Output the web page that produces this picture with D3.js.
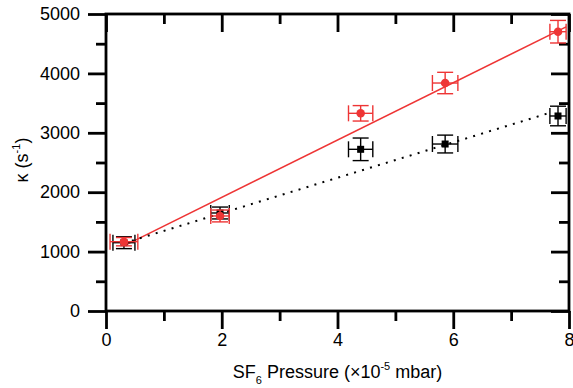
<!DOCTYPE html>
<html>
<head>
<meta charset="utf-8">
<script src="https://cdn.jsdelivr.net/npm/d3@7"></script>
<style>
  body { margin: 0; background: #fff; }
  svg text { font-family: "Liberation Sans", Arial, sans-serif; fill: #000; }
</style>
</head>
<body>
<svg id="chart" width="573" height="388"></svg>
<script>
// values
const redX = [0.31, 1.97, 4.40, 5.86, 7.81];
const redXErr = [0.24, 0.16, 0.21, 0.22, 0.14];
const redK = [1167, 1600, 3328, 3838, 4702];
const redKErr = [70, 100, 130, 180, 190];

const blackX = [0.31, 1.97, 4.40, 5.86, 7.81];
const blackXErr = [0.19, 0.16, 0.21, 0.22, 0.14];
const blackK = [1150, 1650, 2722, 2811, 3283];
const blackKErr = [100, 100, 190, 150, 165];

const redFitX = [0.31, 7.95];
const redFitK = [1097, 4784];
const blackFitX = [0.31, 7.68];
const blackFitK = [1143, 3340];

const xMajor = [0, 2, 4, 6, 8];
const xMinor = [1, 3, 5, 7];
const yMajor = [0, 1000, 2000, 3000, 4000, 5000];
const yMinor = [500, 1500, 2500, 3500, 4500];

const margin = { top: 14, right: 4, bottom: 77, left: 106 };
const width = 573, height = 388;
const innerW = width - margin.left - margin.right;
const innerH = height - margin.top - margin.bottom;

const x = d3.scaleLinear().domain([0, 8]).range([0, innerW]);
const y = d3.scaleLinear().domain([0, 5000]).range([innerH, 0]);

const red = '#ee3535';
const svg = d3.select('#chart');
const g = svg.append('g').attr('transform', `translate(${margin.left},${margin.top})`);

function styleAxis(sel) {
  sel.select('.domain').remove();
  sel.selectAll('line').attr('stroke', '#000').attr('stroke-width', 2.8);
  sel.selectAll('text').attr('font-size', 18);
}

// bottom
g.append('g').attr('transform', `translate(0,${innerH})`)
  .call(d3.axisBottom(x).tickValues(xMajor).tickSize(18).tickPadding(4).tickFormat(d3.format('d')))
  .call(styleAxis);
g.append('g').attr('transform', `translate(0,${innerH})`)
  .call(d3.axisBottom(x).tickValues(xMinor).tickSize(10).tickFormat(''))
  .call(styleAxis);
// top (inward)
g.append('g')
  .call(d3.axisTop(x).tickValues(xMajor).tickSize(-18).tickFormat(''))
  .call(styleAxis);
g.append('g')
  .call(d3.axisTop(x).tickValues(xMinor).tickSize(-10).tickFormat(''))
  .call(styleAxis);
// left
g.append('g')
  .call(d3.axisLeft(y).tickValues(yMajor).tickSize(18).tickPadding(8).tickFormat(d3.format('d')))
  .call(styleAxis);
g.append('g')
  .call(d3.axisLeft(y).tickValues(yMinor).tickSize(10).tickFormat(''))
  .call(styleAxis);
// right (inward)
g.append('g').attr('transform', `translate(${innerW},0)`)
  .call(d3.axisRight(y).tickValues(yMajor).tickSize(-18).tickFormat(''))
  .call(styleAxis);
g.append('g').attr('transform', `translate(${innerW},0)`)
  .call(d3.axisRight(y).tickValues(yMinor).tickSize(-10).tickFormat(''))
  .call(styleAxis);

// frame
g.append('rect')
  .attr('x', 0).attr('y', 0).attr('width', innerW).attr('height', innerH)
  .attr('fill', 'none').attr('stroke', '#000').attr('stroke-width', 2.8);

// fit lines
const line = d3.line().x(d => x(d[0])).y(d => y(d[1]));
g.append('path')
  .datum(redFitX.map((v, i) => [v, redFitK[i]]))
  .attr('d', line).attr('fill', 'none').attr('stroke', red).attr('stroke-width', 1.5);
g.append('path')
  .datum(blackFitX.map((v, i) => [v, blackFitK[i]]))
  .attr('d', line).attr('fill', 'none').attr('stroke', '#000')
  .attr('stroke-width', 2).attr('stroke-dasharray', '2,6.3');

function errorBars(xs, xe, ks, ke, color) {
  const cap = 8;
  const grp = g.append('g').attr('stroke', color).attr('stroke-width', 1.4).attr('fill', 'none');
  xs.forEach((xv, i) => {
    const cx = x(xv), cy = y(ks[i]);
    const x0 = x(xv - xe[i]), x1 = x(xv + xe[i]);
    const y0 = y(ks[i] - ke[i]), y1 = y(ks[i] + ke[i]);
    grp.append('line').attr('x1', x0).attr('x2', x1).attr('y1', cy).attr('y2', cy);
    grp.append('line').attr('x1', cx).attr('x2', cx).attr('y1', y0).attr('y2', y1);
    grp.append('line').attr('x1', x0).attr('x2', x0).attr('y1', cy - cap).attr('y2', cy + cap);
    grp.append('line').attr('x1', x1).attr('x2', x1).attr('y1', cy - cap).attr('y2', cy + cap);
    grp.append('line').attr('x1', cx - cap).attr('x2', cx + cap).attr('y1', y0).attr('y2', y0);
    grp.append('line').attr('x1', cx - cap).attr('x2', cx + cap).attr('y1', y1).attr('y2', y1);
  });
}

errorBars(blackX, blackXErr, blackK, blackKErr, '#000');
g.selectAll('rect.sq').data(blackX).enter().append('rect')
  .attr('class', 'sq')
  .attr('x', (d) => x(d) - 3.5)
  .attr('y', (d, i) => y(blackK[i]) - 3.5)
  .attr('width', 7).attr('height', 7).attr('fill', '#000');

errorBars(redX, redXErr, redK, redKErr, red);
g.selectAll('circle.pt').data(redX).enter().append('circle')
  .attr('class', 'pt')
  .attr('cx', (d) => x(d))
  .attr('cy', (d, i) => y(redK[i]))
  .attr('r', 4.3).attr('fill', red);

// axis titles
const xt = svg.append('text')
  .attr('x', margin.left + innerW / 2).attr('y', 378)
  .attr('text-anchor', 'middle').attr('font-size', 18);
xt.append('tspan').text('SF');
xt.append('tspan').attr('font-size', 11).attr('dy', 6).text('6');
xt.append('tspan').attr('dy', -6).text(' Pressure (×10');
xt.append('tspan').attr('font-size', 11).attr('dy', -8).text('-5');
xt.append('tspan').attr('dy', 8).text(' mbar)');

const yt = svg.append('text')
  .attr('transform', 'translate(28,160) rotate(-90)')
  .attr('text-anchor', 'middle').attr('font-size', 18);
yt.append('tspan').text('κ (s');
yt.append('tspan').attr('font-size', 11).attr('dy', -8).text('-1');
yt.append('tspan').attr('dy', 8).text(')');
</script>
</body>
</html>
